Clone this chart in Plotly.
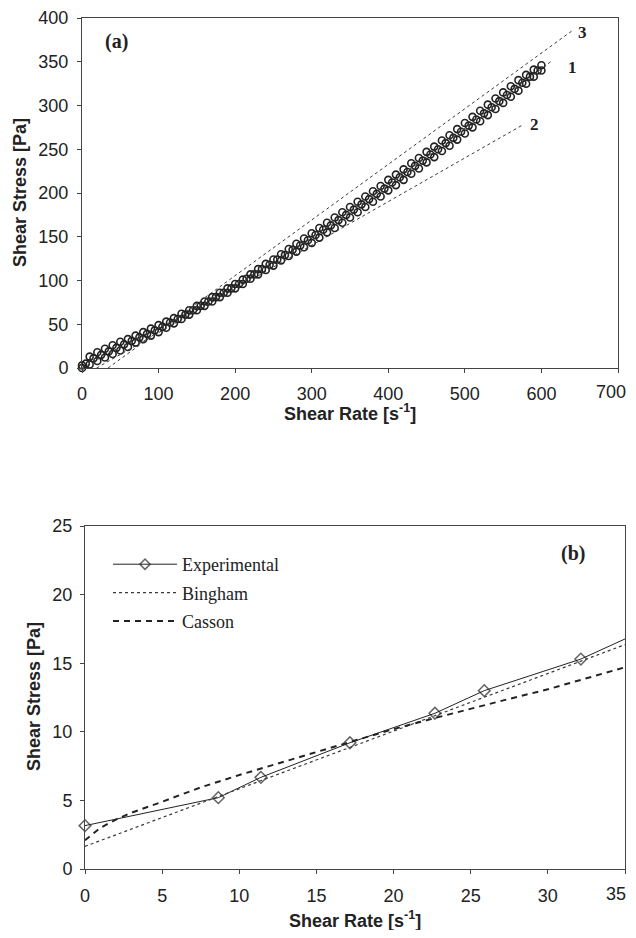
import plotly.graph_objects as go

# page body has an 8px margin; figure is sized so the page fits the 636x938 window
OFF = 8
W, H = 636 - OFF, 938 - 2 * OFF
VIS_RIGHT = 628  # right edge of the visible drawing area (screen px)

# ---------------- panel (a) data ----------------
rate_a = [0, 10, 20, 30, 40, 50, 60, 70, 80, 90, 100, 110, 120, 130, 140, 150, 160, 170, 180, 190,
          200, 210, 220, 230, 240, 250, 260, 270, 280, 290, 300, 310, 320, 330, 340, 350, 360, 370,
          380, 390, 400, 410, 420, 430, 440, 450, 460, 470, 480, 490, 500, 510, 520, 530, 540, 550,
          560, 570, 580, 590, 600]
stress_up = [3, 13, 18, 22, 26, 30, 33, 37, 41, 45, 49, 53, 57, 62, 66, 71, 76, 81, 86, 91,
             96, 101, 107, 113, 119, 124, 130, 136, 142, 148, 154, 160, 166, 172, 178, 184, 190, 196,
             202, 208, 215, 221, 227, 234, 240, 247, 253, 260, 266, 273, 280, 287, 294, 301, 308, 315,
             322, 329, 335, 341, 346]
stress_down = [0, 4, 8, 12, 16, 20, 24, 29, 33, 37, 41, 46, 51, 56, 61, 66, 71, 76, 81, 86,
               91, 96, 102, 107, 112, 117, 123, 128, 133, 138, 143, 149, 155, 160, 166, 172, 178, 184,
               190, 196, 203, 209, 215, 222, 228, 235, 241, 248, 254, 261, 268, 275, 282, 289, 296, 303,
               310, 317, 325, 333, 340]
rate_mid = [5, 15, 25, 35, 45, 55, 65, 75, 85, 95, 105, 115, 125, 135, 145, 155, 165, 175, 185, 195,
            205, 215, 225, 235, 245, 255, 265, 275, 285, 295, 305, 315, 325, 335, 345, 355, 365, 375,
            385, 395, 405, 415, 425, 435, 445, 455, 465, 475, 485, 495, 505, 515, 525, 535, 545, 555,
            565, 575, 585, 595]
stress_mid = [5, 11, 15, 19, 23, 27, 31, 35, 39, 43, 47, 52, 56, 61, 66, 71, 76, 81, 86, 91,
              96, 102, 107, 113, 118, 124, 129, 135, 140, 146, 152, 158, 163, 169, 175, 181, 187, 193,
              199, 205, 212, 218, 224, 231, 237, 244, 250, 257, 263, 270, 277, 284, 291, 298, 305, 312,
              319, 326, 333, 340]

fit1_x = [0, 50, 100, 150, 200, 250, 300, 350, 400, 450, 500, 550, 612]
fit1_y = [0, 24, 45, 69, 94, 121, 149, 178, 209, 241, 274, 309, 350]
fit2_x = [19, 576]
fit2_y = [0, 278]
fit3_x = [34, 641]
fit3_y = [0, 386]

# ---------------- panel (b) data ----------------
exp_x = [0, 8.64, 11.4, 17.17, 22.68, 25.88, 32.14, 37.6]
exp_y = [3.16, 5.2, 6.68, 9.2, 11.35, 13.0, 15.3, 18.1]
bingham_x = [0, 35]
bingham_y = [1.65, 16.35]
casson_x = [0, 1, 2, 3, 5, 7.5, 10, 12.5, 15, 17.5, 20, 22.5, 25, 27.5, 30, 32.5, 35]
casson_y = [2.1, 3.0, 3.6, 4.1, 4.9, 5.95, 6.85, 7.7, 8.5, 9.35, 10.2, 10.95, 11.7, 12.4, 13.1, 13.9, 14.7]

xticks_a = [0, 100, 200, 300, 400, 500, 600, 700]
xticklabels_a = ["0", "100", "200", "300", "400", "500", "600", "700"]
yticks_a = [0, 50, 100, 150, 200, 250, 300, 350, 400]
xticks_b = [0, 5, 10, 15, 20, 25, 30, 35]
xticklabels_b = ["0", "5", "10", "15", "20", "25", "30", "35"]
yticks_b = [0, 5, 10, 15, 20, 25]

SANS = "Arial, Liberation Sans, sans-serif"
SERIF = "Times New Roman, Liberation Serif, serif"
INK = "#222222"
LINEC = "#3a3a3a"

fig = go.Figure()

# panel (a)
for xs, ys in ((rate_a, stress_down), (rate_mid, stress_mid), (rate_a, stress_up)):
    fig.add_trace(go.Scatter(
        x=xs, y=ys, mode="markers", showlegend=False, cliponaxis=False,
        marker=dict(symbol="circle-open", size=7, color=INK, line=dict(width=1.6, color=INK)),
        xaxis="x", yaxis="y"))
for fx, fy in ((fit1_x, fit1_y), (fit2_x, fit2_y), (fit3_x, fit3_y)):
    fig.add_trace(go.Scatter(
        x=fx, y=fy, mode="lines", showlegend=False,
        line=dict(color=LINEC, width=1, dash="dot"), xaxis="x", yaxis="y"))

# panel (b)
fig.add_trace(go.Scatter(
    x=exp_x, y=exp_y, mode="lines+markers", name="Experimental", legendgroup="a",
    cliponaxis=False,
    line=dict(color=INK, width=1),
    marker=dict(symbol="diamond-open", size=[9, 9, 9, 9, 9, 9, 9, 0], color=INK,
                line=dict(width=1.5, color=INK)),
    xaxis="x2", yaxis="y2"))
fig.add_trace(go.Scatter(
    x=bingham_x, y=bingham_y, mode="lines", name="Bingham", legendgroup="b",
    line=dict(color=LINEC, width=1.2, dash="dot"), xaxis="x2", yaxis="y2"))
fig.add_trace(go.Scatter(
    x=casson_x, y=casson_y, mode="lines", name="Casson", legendgroup="c",
    line=dict(color=INK, width=2, dash="6px,5px"), xaxis="x2", yaxis="y2"))

def px(sx):
    return (sx - OFF) / W

def py(sy):
    return 1 - (sy - OFF) / H

axis_common = dict(
    showgrid=False, zeroline=False, showline=True, linecolor="#444", linewidth=1,
    mirror=True, ticks="outside", ticklen=4, tickcolor="#444", automargin=False,
    ticklabeloverflow="allow",
    tickfont=dict(family=SANS, size=18, color=INK))

# the last x tick label of each panel sits at the window edge; it is drawn right-aligned below
fig.update_layout(
    width=W, height=H, margin=dict(l=0, r=0, t=0, b=0, autoexpand=False),
    paper_bgcolor="white", plot_bgcolor="white",
    xaxis=dict(domain=[px(82), px(618)], range=[0, 700], tickvals=xticks_a,
               ticktext=xticklabels_a[:-1] + [""], anchor="y",
               ticklabelstandoff=5, **axis_common),
    yaxis=dict(domain=[py(368), py(18)], range=[0, 400], tickvals=yticks_a, anchor="x",
               ticklabelstandoff=5, **axis_common),
    xaxis2=dict(domain=[px(85), px(625)], range=[0, 35], tickvals=xticks_b,
                ticktext=xticklabels_b[:-1] + [""], anchor="y2",
                ticklabelstandoff=6, **axis_common),
    yaxis2=dict(domain=[py(869), py(526)], range=[0, 25], tickvals=yticks_b, anchor="x2",
                ticklabelstandoff=4, **axis_common),
    legend=dict(x=px(108), y=py(546), xanchor="left", yanchor="top",
                font=dict(family=SERIF, size=18, color=INK), bgcolor="rgba(0,0,0,0)",
                itemwidth=64, tracegroupgap=2),
    showlegend=True,
)

ann = []
def label(text, x, y, xref, yref, size, family, angle=0, xanchor="center"):
    ann.append(dict(text=text, x=x, y=y, xref=xref, yref=yref, showarrow=False,
                    font=dict(family=family, size=size, color=INK), textangle=angle,
                    xanchor=xanchor, yanchor="middle"))

label(xticklabels_a[-1], px(VIS_RIGHT), py(392), "paper", "paper", 18, SANS, xanchor="right")
label(xticklabels_b[-1], px(VIS_RIGHT), py(894), "paper", "paper", 18, SANS, xanchor="right")
label("<b>Shear Rate [s<sup>-1</sup>]</b>", px(350), py(412), "paper", "paper", 18, SANS)
label("<b>Shear Stress [Pa]</b>", px(20), py(193), "paper", "paper", 18, SANS, -90)
label("<b>Shear Rate [s<sup>-1</sup>]</b>", px(355), py(919), "paper", "paper", 18, SANS)
label("<b>Shear Stress [Pa]</b>", px(34), py(697), "paper", "paper", 18, SANS, -90)
label("<b>(a)</b>", 45.7, 372.6, "x", "y", 20, SERIF)
label("<b>3</b>", 654, 383, "x", "y", 17, SERIF)
label("<b>1</b>", 640, 343, "x", "y", 17, SERIF)
label("<b>2</b>", 591, 278, "x", "y", 17, SERIF)
label("<b>(b)</b>", 31.6, 23.0, "x2", "y2", 20, SERIF)
fig.update_layout(annotations=ann)

fig.write_html("out.html")
